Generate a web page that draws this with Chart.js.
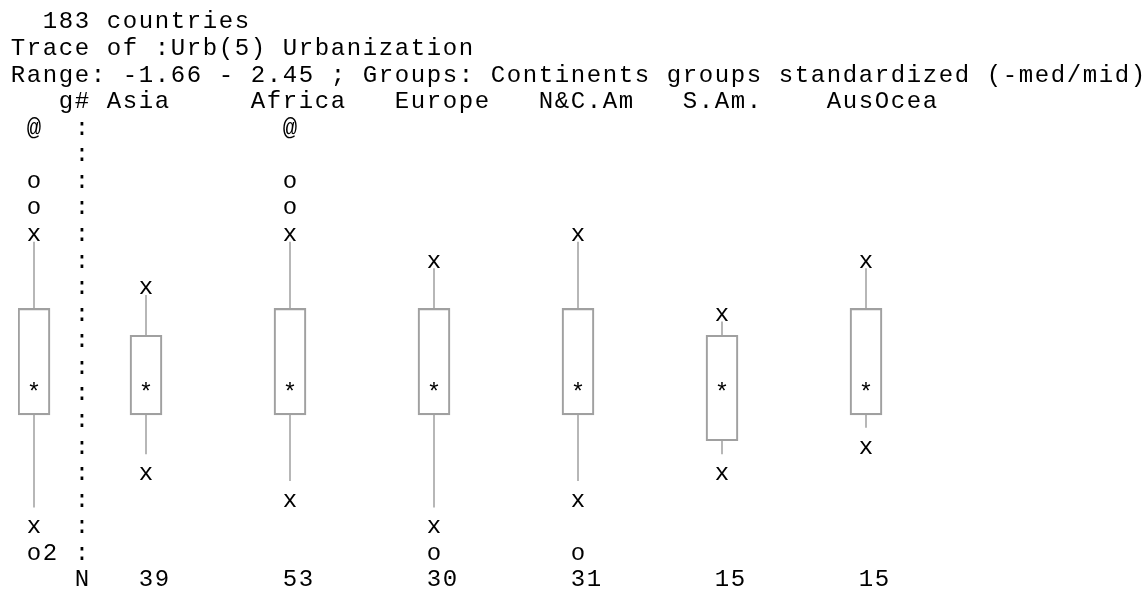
<!DOCTYPE html>
<html>
<head>
<meta charset="utf-8">
<script src="https://cdn.jsdelivr.net/npm/chart.js@4.4.1/dist/chart.umd.min.js"></script>
<style>
    body { margin: 0; background: #fff; }
    #wrap { width: 1148px; height: 594px; }
</style>
</head>
<body>
<div id="wrap"><canvas id="ChartUrbanization"></canvas></div>
<script>
// first column = all countries together, then the continent groups
const groupNames = ['', 'Asia', 'Africa', 'Europe', 'N&C.Am', 'S.Am.', 'AusOcea'];
const groupCounts = [183, 39, 53, 30, 31, 15, 15];
const rangeMin = -1.66;
const rangeMax = 2.45;

// standardized values (-med/mid)
const upperX = [1.42, 0.91, 1.42, 1.17, 1.42, 0.65, 1.17];
const quart3 = [0.65, 0.39, 0.65, 0.65, 0.65, 0.39, 0.65];
const medians = [-0.12, -0.12, -0.12, -0.12, -0.12, -0.12, -0.12];
const quart1 = [-0.38, -0.38, -0.38, -0.38, -0.38, -0.63, -0.38];
const lowerX = [-1.40, -0.89, -1.15, -1.40, -1.15, -0.89, -0.63];

// outliers per group: [value, symbol, how many]
const outliers = [
    [[2.45, '@', 1], [1.94, 'o', 1], [1.68, 'o', 1], [-1.66, 'o', 2]],
    [],
    [[2.45, '@', 1], [1.94, 'o', 1], [1.68, 'o', 1]],
    [[-1.66, 'o', 1]],
    [[-1.66, 'o', 1]],
    [],
    []
];

// text columns of each group
const colPos = [1, 8, 17, 26, 35, 44, 53];
const nRows = 16;
const lineColor = '#a0a0a0';

const textGrid = {
    id: 'textGrid',
    afterDatasetsDraw(chart) {
        const ctx = chart.ctx;
        const xs = chart.scales.x;
        const ys = chart.scales.y;
        const step = (rangeMax - rangeMin) / nRows;
        const rowY = r => ys.getPixelForValue(rangeMax - r * step);
        const rowPx = rowY(1) - rowY(0);
        const rowOf = v => Math.round((rangeMax - v) / step);

        function put(str, col, row) {
            for (let i = 0; i < str.length; i++) {
                ctx.fillText(str[i], xs.getPixelForValue(col + i), rowY(row) + 12.5);
            }
        }

        ctx.save();
        // whiskers
        ctx.strokeStyle = lineColor;
        ctx.lineWidth = 1.5;
        colPos.forEach((c, i) => {
            const x = xs.getPixelForValue(c);
            ctx.beginPath();
            ctx.moveTo(x, rowY(rowOf(upperX[i])) + rowPx / 2);
            ctx.lineTo(x, ys.getPixelForValue(quart3[i]));
            ctx.moveTo(x, ys.getPixelForValue(quart1[i]));
            ctx.lineTo(x, rowY(rowOf(lowerX[i])) - rowPx / 2);
            ctx.stroke();
        });

        ctx.fillStyle = '#000';
        ctx.font = '24px "Liberation Mono", "Courier New", monospace';
        ctx.textAlign = 'center';
        ctx.textBaseline = 'alphabetic';

        put('  ' + groupCounts[0] + ' countries', 0, -4);
        put('Trace of :Urb(5) Urbanization', 0, -3);
        put('Range: ' + rangeMin + ' - ' + rangeMax + ' ; Groups: Continents groups standardized (-med/mid)', 0, -2);
        put('g#', 3, -1);
        groupNames.forEach((n, i) => { if (n) put(n, colPos[i] - 2, -1); });

        for (let r = 0; r <= nRows; r++) put(':', 4, r);

        colPos.forEach((c, i) => {
            put('x', c, rowOf(upperX[i]));
            put('*', c, rowOf(medians[i]));
            put('x', c, rowOf(lowerX[i]));
            outliers[i].forEach(o => {
                put(o[1] + (o[2] > 1 ? o[2] : ''), c, rowOf(o[0]));
            });
        });

        put('N', 4, nRows + 1);
        colPos.forEach((c, i) => { if (i > 0) put(String(groupCounts[i]), c, nRows + 1); });
        ctx.restore();
    }
};

new Chart(document.getElementById('ChartUrbanization'), {
    type: 'bar',
    data: {
        datasets: [{
            label: 'box',
            data: colPos.map((c, i) => ({ x: c, y: [quart1[i], quart3[i]] })),
            backgroundColor: 'rgba(0,0,0,0)',
            borderColor: lineColor,
            borderWidth: 1.5,
            borderSkipped: false,
            barThickness: 32
        }]
    },
    options: {
        responsive: true,
        maintainAspectRatio: false,
        animation: false,
        layout: { padding: { left: 18, right: 10, top: 122.2, bottom: 46.7 } },
        plugins: {
            legend: { display: false },
            title: { display: false },
            tooltip: { enabled: false }
        },
        scales: {
            x: { type: 'linear', min: 0, max: 70, offset: false, display: false },
            y: { type: 'linear', min: rangeMin, max: rangeMax, display: false }
        }
    },
    plugins: [textGrid]
});
</script>
</body>
</html>
